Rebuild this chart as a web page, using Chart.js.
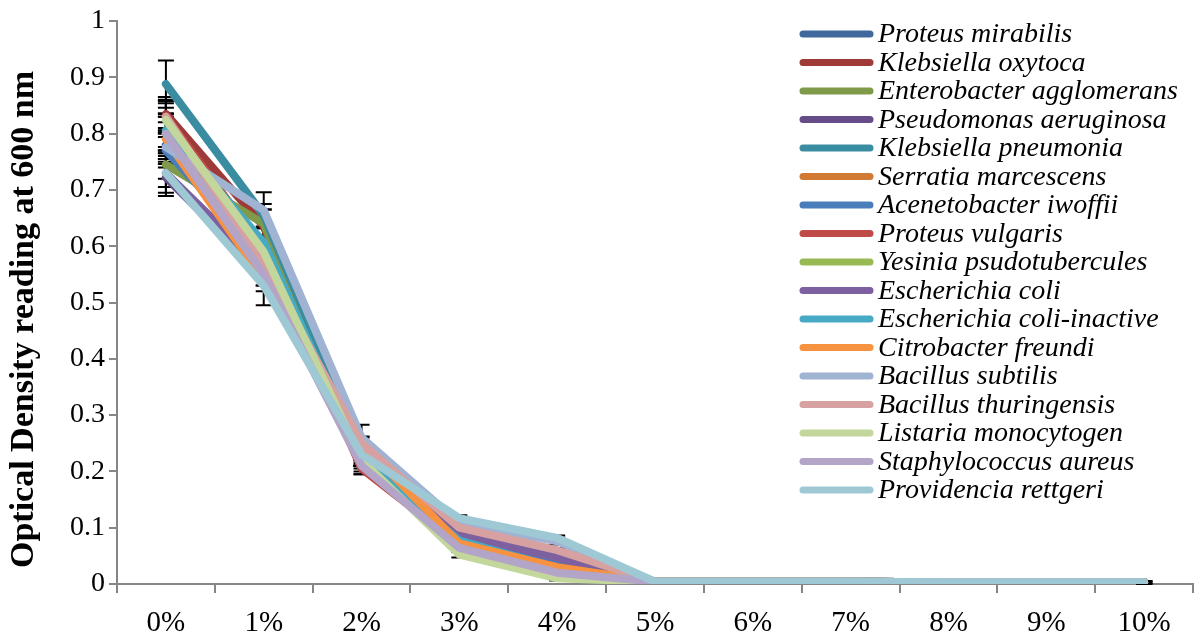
<!DOCTYPE html>
<html>
<head>
<meta charset="utf-8">
<script src="https://cdn.jsdelivr.net/npm/chart.js@4.4.1/dist/chart.umd.min.js"></script>
<style>
  html, body { margin: 0; padding: 0; background: #fff; }
  #wrap { width: 1203px; height: 638px; position: relative; }
</style>
</head>
<body>
<div id="wrap"><canvas id="odChart" width="1203" height="638"></canvas></div>
<script>
// Categories and tick labels
const concentrations = ["0%", "1%", "2%", "3%", "4%", "5%", "6%", "7%", "8%", "9%", "10%"];
const yTicks = [0, 0.1, 0.2, 0.3, 0.4, 0.5, 0.6, 0.7, 0.8, 0.9, 1];

// Series names and colours
const speciesNames = [
  "Proteus mirabilis", "Klebsiella oxytoca", "Enterobacter agglomerans", "Pseudomonas aeruginosa",
  "Klebsiella pneumonia", "Serratia marcescens", "Acenetobacter iwoffii", "Proteus vulgaris",
  "Yesinia psudotubercules", "Escherichia coli", "Escherichia coli-inactive", "Citrobacter freundi",
  "Bacillus subtilis", "Bacillus thuringensis", "Listaria monocytogen", "Staphylococcus aureus",
  "Providencia rettgeri"
];
const speciesColors = [
  "#3F689C", "#9E3B39", "#7F9A48", "#664C88", "#3A8DA1", "#D07A33", "#4A7EBB", "#BE4B48",
  "#98B954", "#7D60A0", "#46AAC5", "#F69240", "#A0B3D3", "#D6A1A0", "#C3D69B", "#B3A5C8",
  "#9FC8D5"
];

// Optical density readings
const proteusMirabilis   = [0.780, 0.600, 0.220, 0.080, 0.040, 0.004, 0.004, 0.004, 0.003, 0.003, 0.003];
const klebsiellaOxytoca  = [0.835, 0.635, 0.210, 0.080, 0.035, 0.004, 0.004, 0.004, 0.003, 0.003, 0.003];
const enterobacter       = [0.745, 0.640, 0.220, 0.075, 0.030, 0.004, 0.004, 0.004, 0.003, 0.003, 0.003];
const pseudomonas        = [0.722, 0.550, 0.215, 0.085, 0.045, 0.004, 0.004, 0.004, 0.003, 0.003, 0.003];
const klebsiellaPneu     = [0.888, 0.655, 0.240, 0.080, 0.030, 0.004, 0.004, 0.004, 0.003, 0.003, 0.003];
const serratia           = [0.800, 0.580, 0.230, 0.075, 0.030, 0.004, 0.004, 0.004, 0.003, 0.003, 0.003];
const acenetobacter      = [0.770, 0.580, 0.220, 0.080, 0.035, 0.004, 0.004, 0.004, 0.003, 0.003, 0.003];
const proteusVulgaris    = [0.830, 0.595, 0.205, 0.070, 0.030, 0.004, 0.004, 0.004, 0.003, 0.003, 0.003];
const yesinia            = [0.800, 0.600, 0.220, 0.070, 0.025, 0.004, 0.004, 0.004, 0.003, 0.003, 0.003];
const eColi              = [0.730, 0.560, 0.220, 0.088, 0.047, 0.004, 0.004, 0.004, 0.003, 0.003, 0.003];
const eColiInactive      = [0.806, 0.607, 0.220, 0.077, 0.028, 0.004, 0.004, 0.004, 0.003, 0.003, 0.003];
const citrobacter        = [0.790, 0.540, 0.250, 0.072, 0.030, 0.004, 0.004, 0.004, 0.003, 0.003, 0.003];
const bacillusSubtilis   = [0.776, 0.664, 0.260, 0.108, 0.076, 0.004, 0.004, 0.004, 0.003, 0.003, 0.003];
const bacillusThur       = [0.830, 0.570, 0.250, 0.100, 0.060, 0.004, 0.004, 0.004, 0.003, 0.003, 0.003];
const listaria           = [0.824, 0.590, 0.220, 0.052, 0.010, 0.004, 0.004, 0.004, 0.003, 0.003, 0.003];
const staphylococcus     = [0.800, 0.550, 0.210, 0.064, 0.020, 0.004, 0.004, 0.004, 0.003, 0.003, 0.003];
const providencia        = [0.730, 0.530, 0.230, 0.117, 0.082, 0.004, 0.004, 0.004, 0.003, 0.003, 0.003];

// Standard errors
const errProteusMirabilis  = [0.030, 0.020, 0.010, 0.005, 0.004, 0.001, 0.001, 0.001, 0.001, 0.001, 0.002];
const errKlebsiellaOxytoca = [0.030, 0.030, 0.010, 0.005, 0.004, 0.001, 0.001, 0.001, 0.001, 0.001, 0.002];
const errEnterobacter      = [0.025, 0.025, 0.010, 0.005, 0.004, 0.001, 0.001, 0.001, 0.001, 0.001, 0.002];
const errPseudomonas       = [0.033, 0.020, 0.010, 0.005, 0.004, 0.001, 0.001, 0.001, 0.001, 0.001, 0.002];
const errKlebsiellaPneu    = [0.042, 0.020, 0.012, 0.005, 0.004, 0.001, 0.001, 0.001, 0.001, 0.001, 0.002];
const errSerratia          = [0.035, 0.020, 0.010, 0.005, 0.004, 0.001, 0.001, 0.001, 0.001, 0.001, 0.002];
const errAcenetobacter     = [0.030, 0.020, 0.010, 0.005, 0.004, 0.001, 0.001, 0.001, 0.001, 0.001, 0.002];
const errProteusVulgaris   = [0.028, 0.020, 0.010, 0.005, 0.004, 0.001, 0.001, 0.001, 0.001, 0.001, 0.002];
const errYesinia           = [0.030, 0.020, 0.010, 0.005, 0.004, 0.001, 0.001, 0.001, 0.001, 0.001, 0.002];
const errEColi             = [0.025, 0.020, 0.010, 0.005, 0.004, 0.001, 0.001, 0.001, 0.001, 0.001, 0.002];
const errEColiInactive     = [0.030, 0.025, 0.010, 0.005, 0.004, 0.001, 0.001, 0.001, 0.001, 0.001, 0.002];
const errCitrobacter       = [0.030, 0.020, 0.012, 0.005, 0.004, 0.001, 0.001, 0.001, 0.001, 0.001, 0.002];
const errBacillusSubtilis  = [0.030, 0.032, 0.023, 0.006, 0.006, 0.001, 0.001, 0.001, 0.001, 0.001, 0.002];
const errBacillusThur      = [0.030, 0.020, 0.010, 0.005, 0.004, 0.001, 0.001, 0.001, 0.001, 0.001, 0.002];
const errListaria          = [0.030, 0.020, 0.010, 0.005, 0.004, 0.001, 0.001, 0.001, 0.001, 0.001, 0.002];
const errStaphylococcus    = [0.030, 0.020, 0.015, 0.005, 0.004, 0.001, 0.001, 0.001, 0.001, 0.001, 0.002];
const errProvidencia       = [0.035, 0.035, 0.010, 0.005, 0.004, 0.001, 0.001, 0.001, 0.001, 0.001, 0.002];

const seriesValues = [
  proteusMirabilis, klebsiellaOxytoca, enterobacter, pseudomonas, klebsiellaPneu, serratia,
  acenetobacter, proteusVulgaris, yesinia, eColi, eColiInactive, citrobacter, bacillusSubtilis,
  bacillusThur, listaria, staphylococcus, providencia
];
const seriesErrors = [
  errProteusMirabilis, errKlebsiellaOxytoca, errEnterobacter, errPseudomonas, errKlebsiellaPneu,
  errSerratia, errAcenetobacter, errProteusVulgaris, errYesinia, errEColi, errEColiInactive,
  errCitrobacter, errBacillusSubtilis, errBacillusThur, errListaria, errStaphylococcus, errProvidencia
];

const axisGray = "#868686";
const serif = "'Liberation Serif', 'Times New Roman', serif";
Chart.defaults.font.family = serif;

// error bars under the lines
const errorBars = {
  id: "errorBars",
  beforeDatasetsDraw(chart) {
    const ctx = chart.ctx;
    const y = chart.scales.y;
    ctx.save();
    ctx.strokeStyle = "#000";
    ctx.lineWidth = 2;
    chart.data.datasets.forEach((ds, i) => {
      const meta = chart.getDatasetMeta(i);
      meta.data.forEach((pt, j) => {
        const e = ds.errors[j];
        const top = y.getPixelForValue(ds.data[j] + e);
        const bot = y.getPixelForValue(Math.max(0, ds.data[j] - e));
        ctx.beginPath();
        ctx.moveTo(pt.x, top); ctx.lineTo(pt.x, bot);
        ctx.moveTo(pt.x - 8, top); ctx.lineTo(pt.x + 8, top);
        ctx.moveTo(pt.x - 8, bot); ctx.lineTo(pt.x + 8, bot);
        ctx.stroke();
      });
    });
    ctx.restore();
  }
};

// legend drawn inside the plot, like the original
const insideLegend = {
  id: "insideLegend",
  afterDraw(chart) {
    const ctx = chart.ctx;
    ctx.save();
    ctx.font = "italic 28px " + serif;
    ctx.textBaseline = "middle";
    ctx.lineCap = "round";
    chart.data.datasets.forEach((ds, i) => {
      const yy = 34 + i * 28.5;
      ctx.strokeStyle = ds.borderColor;
      ctx.lineWidth = 7;
      ctx.beginPath();
      ctx.moveTo(803, yy); ctx.lineTo(870, yy);
      ctx.stroke();
      ctx.fillStyle = "#000";
      ctx.fillText(ds.label, 878, yy + 1);
    });
    ctx.restore();
  }
};

const datasets = speciesNames.map((name, i) => ({
  label: name,
  data: seriesValues[i],
  errors: seriesErrors[i],
  borderColor: speciesColors[i],
  backgroundColor: speciesColors[i],
  borderWidth: 8,
  pointRadius: 0,
  tension: 0,
  borderJoinStyle: "round",
  borderCapStyle: "round",
  order: speciesNames.length - i
}));

new Chart(document.getElementById("odChart"), {
  type: "line",
  data: { labels: concentrations, datasets: datasets },
  options: {
    responsive: false,
    animation: false,
    layout: { padding: { top: 21, right: 10, bottom: 0, left: 4 } },
    plugins: { legend: { display: false }, tooltip: { enabled: false } },
    scales: {
      x: {
        offset: true,
        grid: { offset: true, drawOnChartArea: false, color: axisGray, lineWidth: 2, tickLength: 9 },
        border: { color: axisGray, width: 2 },
        ticks: { color: "#000", font: { family: serif, size: 29 }, padding: 13, maxRotation: 0 },
        afterFit(scale) { scale.height = 54; }
      },
      y: {
        min: 0,
        max: 1,
        afterBuildTicks(scale) { scale.ticks = yTicks.map(v => ({ value: v })); },
        grid: { drawOnChartArea: false, color: axisGray, lineWidth: 2, tickLength: 8 },
        border: { color: axisGray, width: 2 },
        ticks: {
          color: "#000",
          font: { family: serif, size: 28 },
          padding: 4,
          callback: (v) => String(Math.round(v * 10) / 10)
        },
        title: {
          display: true,
          text: "Optical Density reading at 600 nm    ",
          color: "#000",
          font: { family: serif, size: 34, weight: "bold" },
          padding: { top: 0, bottom: 4 }
        },
        afterFit(scale) { scale.width = 113; }
      }
    }
  },
  plugins: [errorBars, insideLegend]
});
</script>
</body>
</html>
